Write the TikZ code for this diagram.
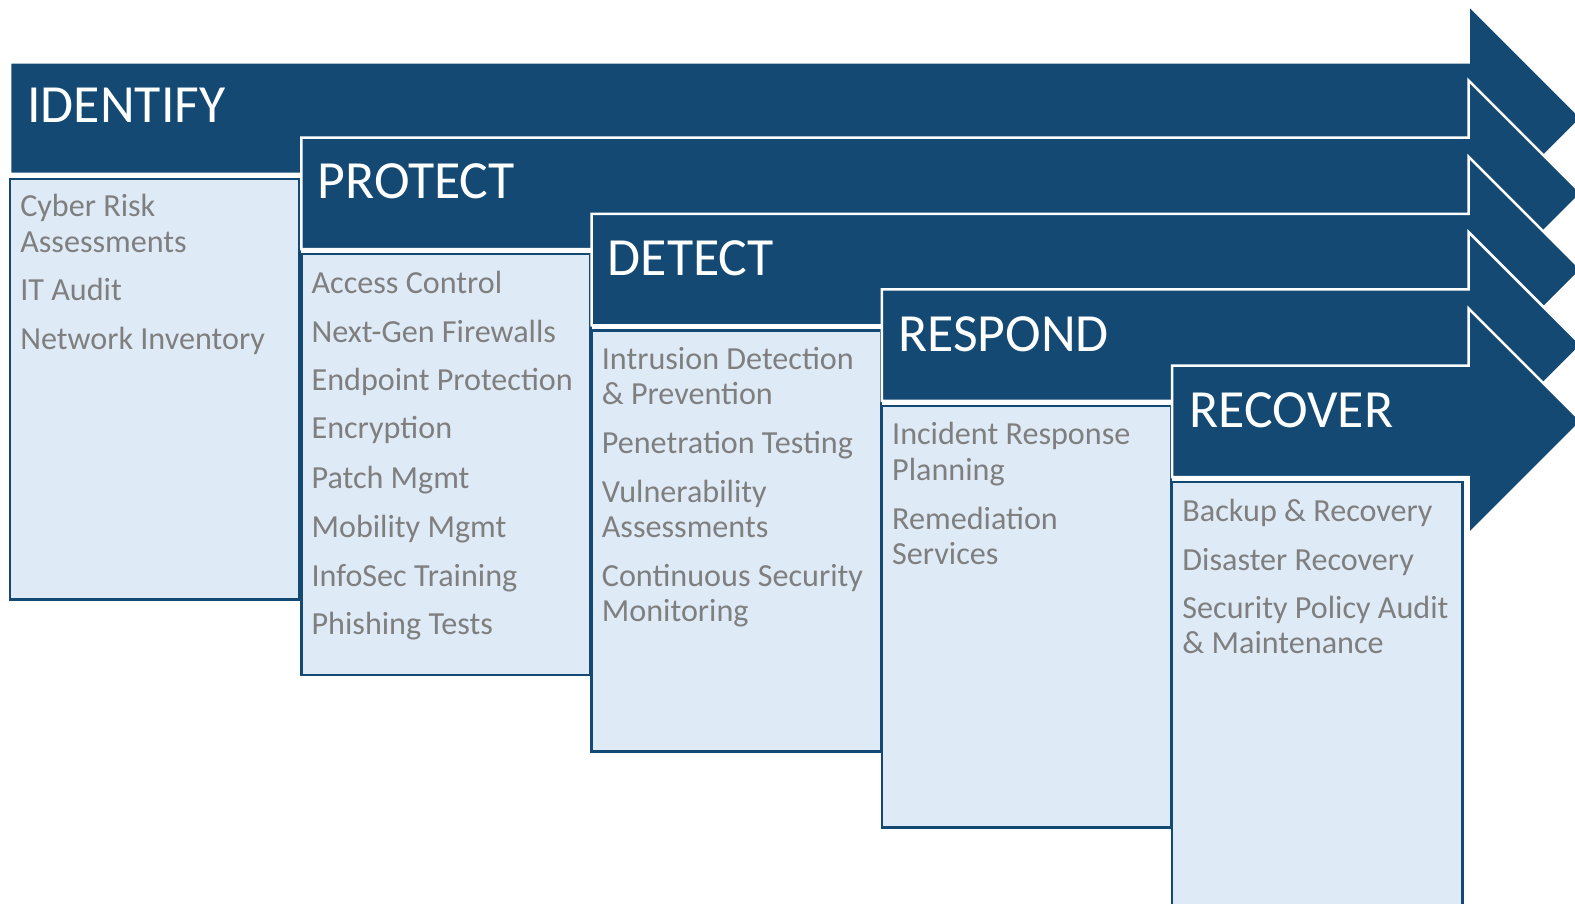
\documentclass[tikz,border=0pt]{standalone}
\usepackage{fontspec}
\setmainfont{Carlito}
\definecolor{navy}{RGB}{19,73,114}
\definecolor{lightbox}{RGB}{222,234,246}
\definecolor{itemgray}{RGB}{127,127,127}
\tikzset{
  arrowshape/.style={fill=navy, draw=white, line width=2.5pt, line join=miter},
  itembox/.style={fill=lightbox, draw=navy, line width=2.5pt},
  titletext/.style={anchor=base west, text=white, font=\fontsize{53.5}{60}\selectfont, inner sep=0pt},
  itemtext/.style={anchor=base west, text=itemgray, font=\fontsize{32}{35}\selectfont, inner sep=0pt},
}
\begin{document}
\begin{tikzpicture}[x=1pt,y=-1pt]
\useasboundingbox (0,0) rectangle (1568,899);
\begin{scope}
\clip (0,0) rectangle (1568,899);
% IDENTIFY
\draw[arrowshape] (10,62)--(1462,62)--(1462,5)--(1574.5,117.5)--(1462,230)--(1462,173)--(10,173)--cycle;
\node[titletext] (tIdentify) at (27,122) {IDENTIFY};
\draw[itembox] (10,178) rectangle (298,597);
\node[itemtext] (i1a) at (20,216) {Cyber Risk};
\node[itemtext] (i1b) at (20,251) {Assessments};
\node[itemtext] (i1c) at (20,299) {IT Audit};
\node[itemtext] (i1d) at (20,348) {Network Inventory};
% PROTECT
\draw[arrowshape] (300,137)--(1462,137)--(1462,80)--(1574.5,192.5)--(1462,305)--(1462,248)--(300,248)--cycle;
\node[titletext] (tProtect) at (316,198) {PROTECT};
\draw[itembox] (300,253) rectangle (588,672);
\node[itemtext] (i2a) at (310,292) {Access Control};
\node[itemtext] (i2b) at (310,341) {Next-Gen Firewalls};
\node[itemtext] (i2c) at (310,389) {Endpoint Protection};
\node[itemtext] (i2d) at (310,437) {Encryption};
\node[itemtext] (i2e) at (310,486) {Patch Mgmt};
\node[itemtext] (i2f) at (310,535) {Mobility Mgmt};
\node[itemtext] (i2g) at (310,584) {InfoSec Training};
\node[itemtext] (i2h) at (310,632) {Phishing Tests};
% DETECT
\draw[arrowshape] (589,213)--(1462,213)--(1462,156)--(1574.5,268.5)--(1462,381)--(1462,324)--(589,324)--cycle;
\node[titletext] (tDetect) at (605,274) {DETECT};
\draw[itembox] (589,329) rectangle (877,748);
\node[itemtext] (i3a) at (599,368) {Intrusion Detection};
\node[itemtext] (i3b) at (599,403) {\& Prevention};
\node[itemtext] (i3c) at (599,451) {Penetration Testing};
\node[itemtext] (i3d) at (599,500) {Vulnerability};
\node[itemtext] (i3e) at (599,535) {Assessments};
\node[itemtext] (i3f) at (599,584) {Continuous Security};
\node[itemtext] (i3g) at (599,619) {Monitoring};
% RESPOND
\draw[arrowshape] (878,288)--(1462,288)--(1462,231)--(1574.5,343.5)--(1462,456)--(1462,399)--(878,399)--cycle;
\node[titletext] (tRespond) at (894,350) {RESPOND};
\draw[itembox] (878,404) rectangle (1166,824);
\node[itemtext] (i4a) at (888,443) {Incident Response};
\node[itemtext] (i4b) at (888,478) {Planning};
\node[itemtext] (i4c) at (888,527) {Remediation};
\node[itemtext] (i4d) at (888,562) {Services};
% RECOVER
\draw[arrowshape] (1167,364)--(1462,364)--(1462,307)--(1574.5,419.5)--(1462,532)--(1462,475)--(1167,475)--cycle;
\node[titletext] (tRecover) at (1184,426) {RECOVER};
\draw[itembox] (1167,480) rectangle (1456,930);
\node[itemtext] (i5a) at (1177,519) {Backup \& Recovery};
\node[itemtext] (i5b) at (1177,568) {Disaster Recovery};
\node[itemtext] (i5c) at (1177,616) {Security Policy Audit};
\node[itemtext] (i5d) at (1177,651) {\& Maintenance};
\end{scope}
\end{tikzpicture}
\end{document}
